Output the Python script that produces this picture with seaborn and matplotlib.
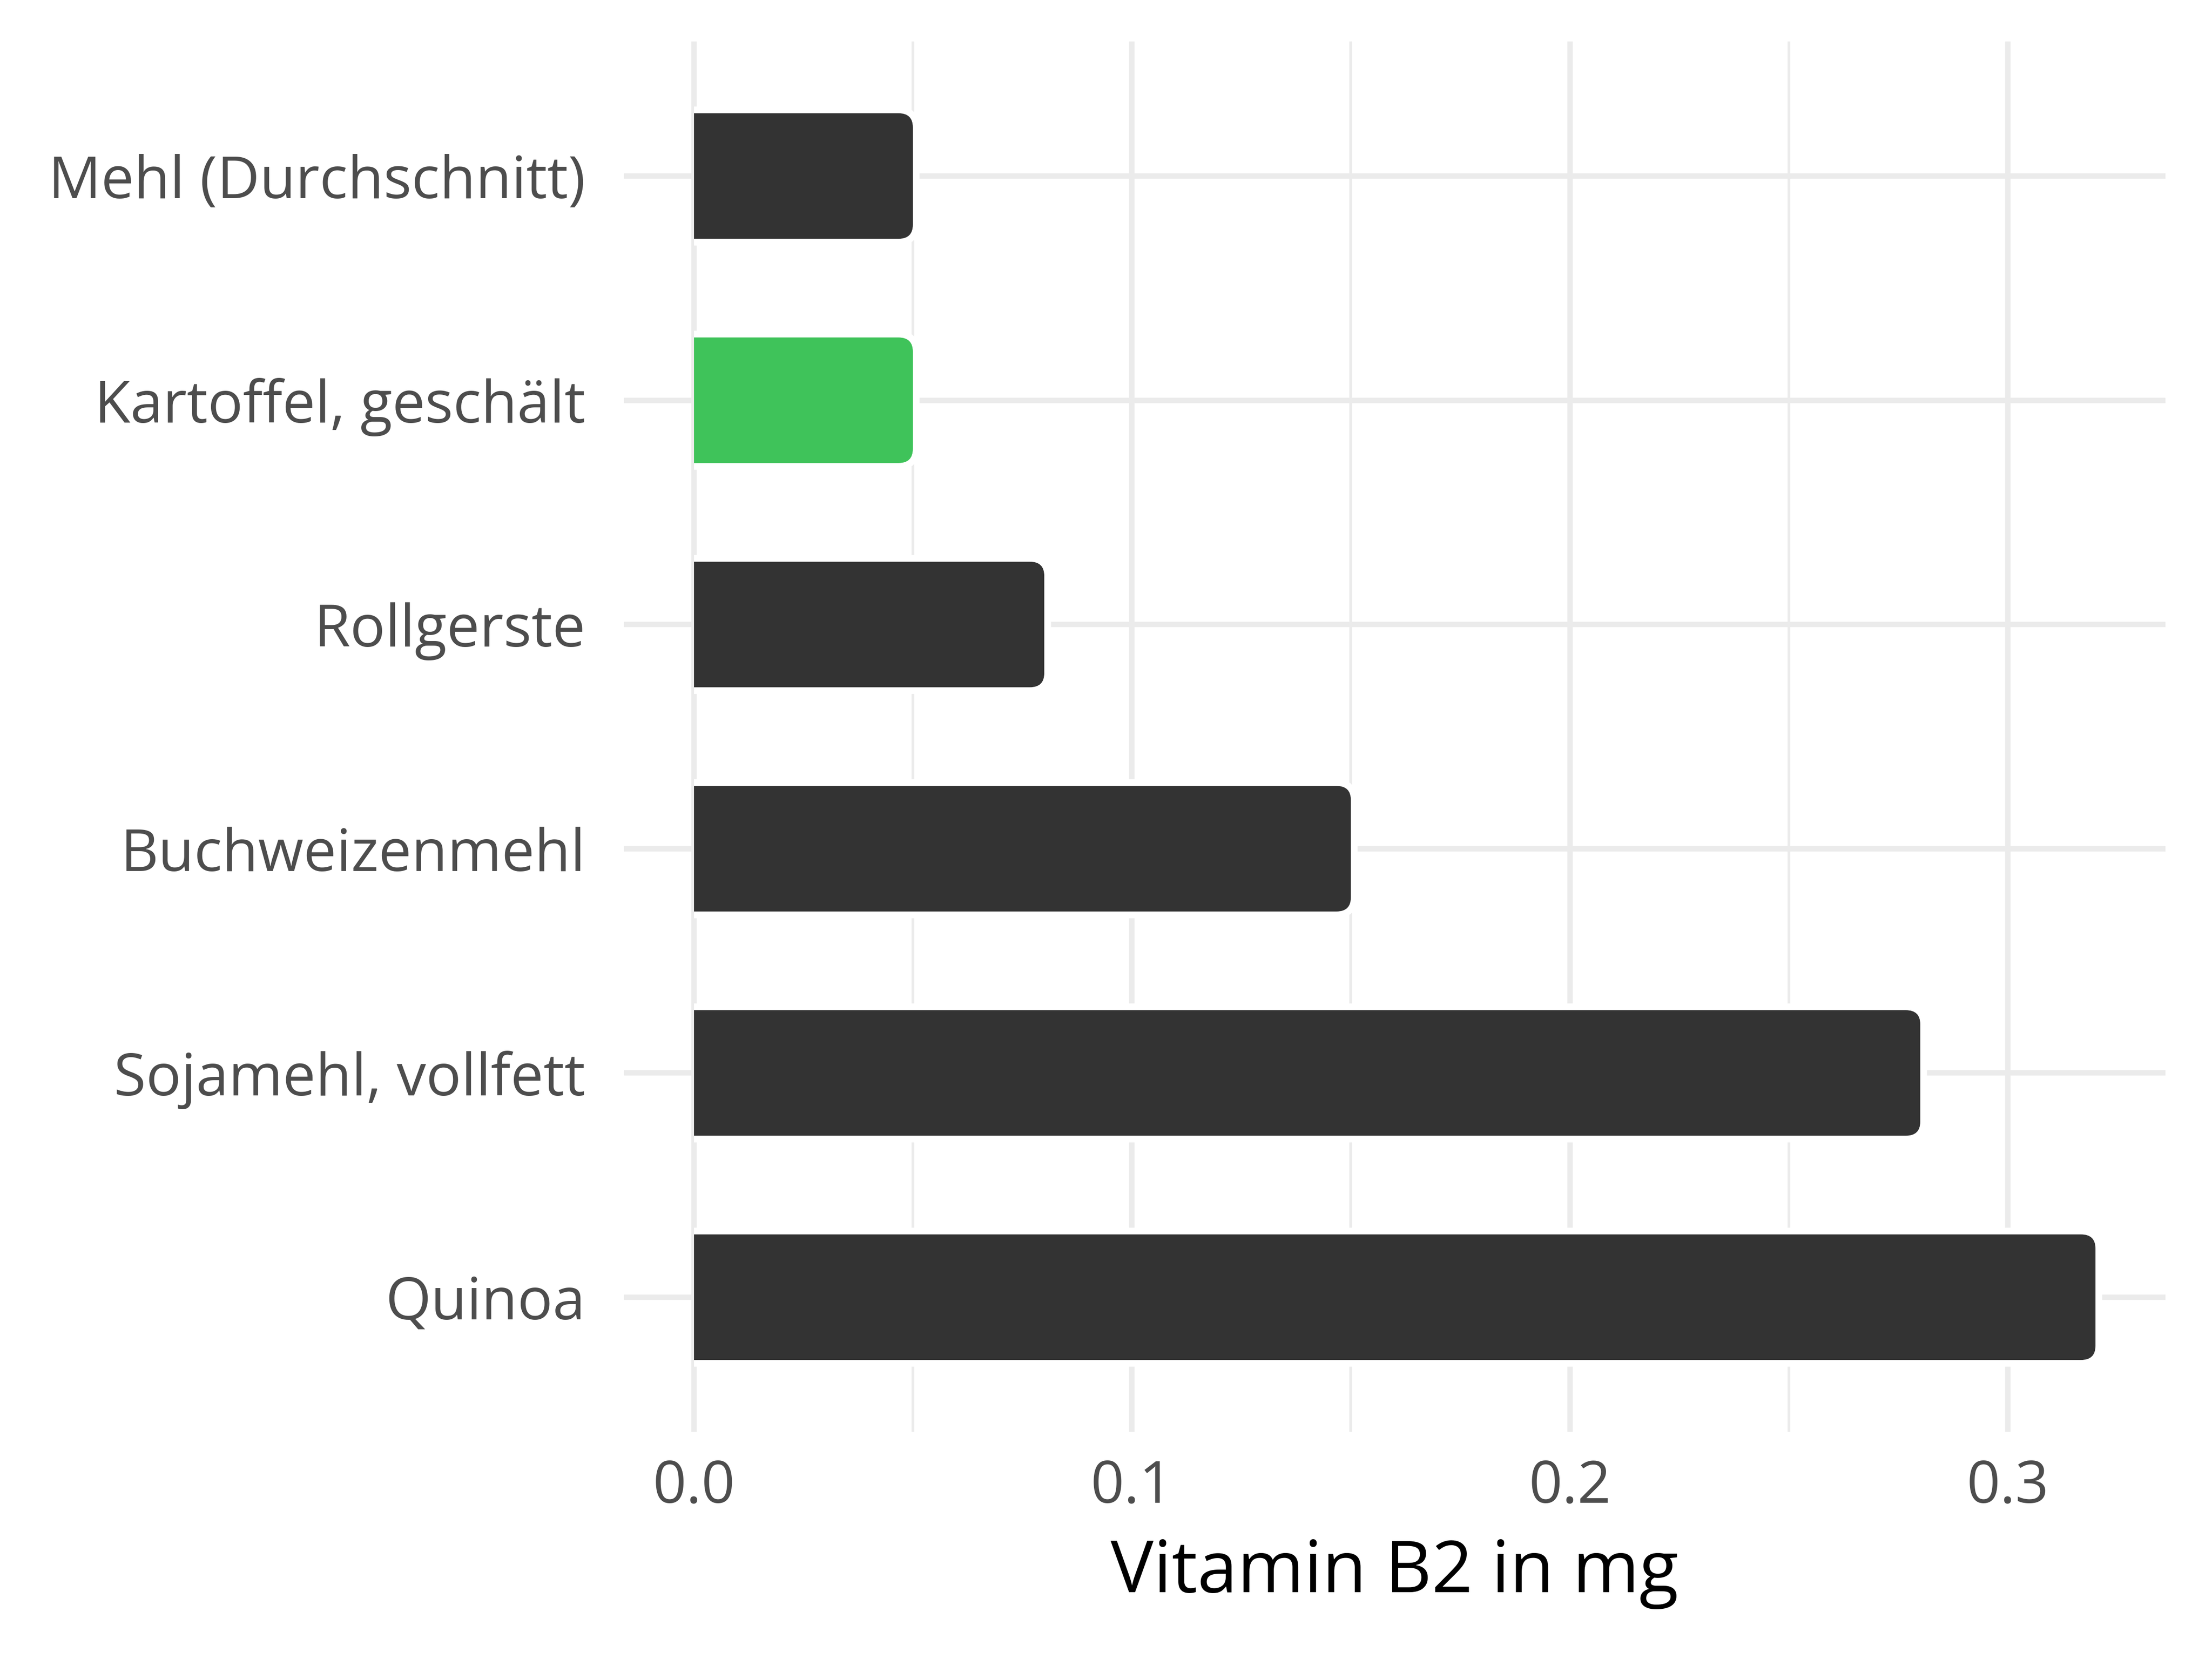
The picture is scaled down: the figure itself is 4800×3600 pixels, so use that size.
import pandas as pd
import seaborn as sns
import matplotlib.pyplot as plt
from matplotlib.patches import FancyBboxPatch, Rectangle

# Daten: Vitamin B2 je Lebensmittel (mg)
lebensmittel = ["Mehl (Durchschnitt)", "Kartoffel, geschält", "Rollgerste",
                "Buchweizenmehl", "Sojamehl, vollfett", "Quinoa"]
vitamin_b2 = [0.05, 0.05, 0.08, 0.15, 0.28, 0.32]
farben = ["#333333", "#3fc35a", "#333333", "#333333", "#333333", "#333333"]
x_ticks = [0.0, 0.1, 0.2, 0.3]
x_minor = [0.05, 0.15, 0.25]

df = pd.DataFrame({"Lebensmittel": lebensmittel, "Vitamin B2": vitamin_b2})

sns.set_theme(style="white")
plt.rcParams["font.family"] = ["Open Sans", "DejaVu Sans"]

fig = plt.figure(figsize=(16, 12), dpi=300)
ax = fig.add_axes([0.282, 0.137, 0.697, 0.838])

sns.barplot(data=df, x="Vitamin B2", y="Lebensmittel", hue="Lebensmittel",
            palette=farben, width=0.56, legend=False, ax=ax, saturation=1)

# Balken mit abgerundeten Ecken rechts und weissem Rand
r = 0.0033
asp = 0.063 / r
clip = Rectangle((0, -10), 10, 30, transform=ax.transData)
for bar in list(ax.patches):
    x0, y0 = bar.get_x(), bar.get_y()
    w, h = bar.get_width(), bar.get_height()
    col = bar.get_facecolor()
    bar.remove()
    for fc, ec, lw, z in [("white", "white", 7, 3), (col, "none", 0, 4)]:
        p = FancyBboxPatch((x0 - r, y0), w + r, h,
                           boxstyle=f"round,pad=0,rounding_size={r}",
                           mutation_aspect=asp, fc=fc, ec=ec, lw=lw, zorder=z)
        ax.add_patch(p)
        p.set_clip_path(clip)

ax.set_xlim(-0.016, 0.336)
ax.set_ylim(5.6, -0.6)
ax.set_xticks(x_ticks)
ax.set_xticklabels([f"{t:.1f}" for t in x_ticks])
ax.set_xticks(x_minor, minor=True)
ax.set_axisbelow(True)
ax.grid(which="major", axis="both", color="#ebebeb", linewidth=2.8)
ax.grid(which="minor", axis="x", color="#ebebeb", linewidth=1.4)
for s in ax.spines.values():
    s.set_visible(False)

ax.tick_params(axis="both", which="both", length=0, labelsize=30.5, labelcolor="#4d4d4d")
ax.tick_params(axis="y", pad=20)
ax.tick_params(axis="x", pad=14)
ax.set_ylabel("")
ax.set_xlabel("Vitamin B2 in mg", fontsize=37.5, color="black", labelpad=11)

fig.savefig("out.png", dpi=300)
